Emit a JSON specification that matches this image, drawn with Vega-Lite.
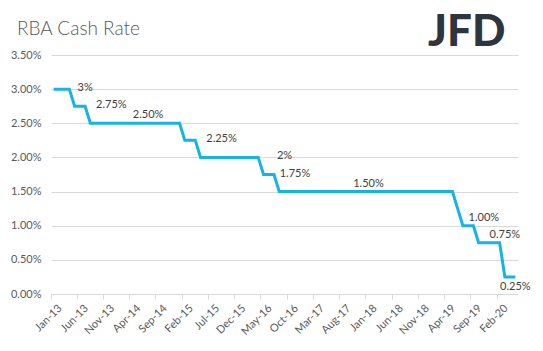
{
  "$schema": "https://vega.github.io/schema/vega-lite/v6.json",
  "width": 467,
  "height": 239,
  "autosize": {"type": "none"},
  "padding": {"left": 51, "top": 55, "right": 25, "bottom": 57},
  "background": "white",
  "config": {"view": {"stroke": null}, "font": "Lato"},
  "title": {"text": "RBA Cash Rate", "anchor": "start", "frame": "group", "dx": -34, "dy": 44, "offset": 0, "baseline": "alphabetic", "fontSize": 19, "fontWeight": 300, "color": "#595959"},
  "datasets": {
    "rates": [
      {"date": "2013-01-15", "rate": 0.03}, {"date": "2013-02-15", "rate": 0.03}, {"date": "2013-03-15", "rate": 0.03}, {"date": "2013-04-15", "rate": 0.03},
      {"date": "2013-05-15", "rate": 0.0275}, {"date": "2013-06-15", "rate": 0.0275}, {"date": "2013-07-15", "rate": 0.0275},
      {"date": "2013-08-15", "rate": 0.025}, {"date": "2013-09-15", "rate": 0.025}, {"date": "2013-10-15", "rate": 0.025}, {"date": "2013-11-15", "rate": 0.025}, {"date": "2013-12-15", "rate": 0.025},
      {"date": "2014-01-15", "rate": 0.025}, {"date": "2014-02-15", "rate": 0.025}, {"date": "2014-03-15", "rate": 0.025}, {"date": "2014-04-15", "rate": 0.025}, {"date": "2014-05-15", "rate": 0.025}, {"date": "2014-06-15", "rate": 0.025},
      {"date": "2014-07-15", "rate": 0.025}, {"date": "2014-08-15", "rate": 0.025}, {"date": "2014-09-15", "rate": 0.025}, {"date": "2014-10-15", "rate": 0.025}, {"date": "2014-11-15", "rate": 0.025}, {"date": "2014-12-15", "rate": 0.025},
      {"date": "2015-01-15", "rate": 0.025}, {"date": "2015-02-15", "rate": 0.0225}, {"date": "2015-03-15", "rate": 0.0225}, {"date": "2015-04-15", "rate": 0.0225},
      {"date": "2015-05-15", "rate": 0.02}, {"date": "2015-06-15", "rate": 0.02}, {"date": "2015-07-15", "rate": 0.02}, {"date": "2015-08-15", "rate": 0.02}, {"date": "2015-09-15", "rate": 0.02}, {"date": "2015-10-15", "rate": 0.02}, {"date": "2015-11-15", "rate": 0.02}, {"date": "2015-12-15", "rate": 0.02},
      {"date": "2016-01-15", "rate": 0.02}, {"date": "2016-02-15", "rate": 0.02}, {"date": "2016-03-15", "rate": 0.02}, {"date": "2016-04-15", "rate": 0.02},
      {"date": "2016-05-15", "rate": 0.0175}, {"date": "2016-06-15", "rate": 0.0175}, {"date": "2016-07-15", "rate": 0.0175},
      {"date": "2016-08-15", "rate": 0.015}, {"date": "2016-09-15", "rate": 0.015}, {"date": "2016-10-15", "rate": 0.015}, {"date": "2016-11-15", "rate": 0.015}, {"date": "2016-12-15", "rate": 0.015},
      {"date": "2017-01-15", "rate": 0.015}, {"date": "2017-02-15", "rate": 0.015}, {"date": "2017-03-15", "rate": 0.015}, {"date": "2017-04-15", "rate": 0.015}, {"date": "2017-05-15", "rate": 0.015}, {"date": "2017-06-15", "rate": 0.015},
      {"date": "2017-07-15", "rate": 0.015}, {"date": "2017-08-15", "rate": 0.015}, {"date": "2017-09-15", "rate": 0.015}, {"date": "2017-10-15", "rate": 0.015}, {"date": "2017-11-15", "rate": 0.015}, {"date": "2017-12-15", "rate": 0.015},
      {"date": "2018-01-15", "rate": 0.015}, {"date": "2018-02-15", "rate": 0.015}, {"date": "2018-03-15", "rate": 0.015}, {"date": "2018-04-15", "rate": 0.015}, {"date": "2018-05-15", "rate": 0.015}, {"date": "2018-06-15", "rate": 0.015},
      {"date": "2018-07-15", "rate": 0.015}, {"date": "2018-08-15", "rate": 0.015}, {"date": "2018-09-15", "rate": 0.015}, {"date": "2018-10-15", "rate": 0.015}, {"date": "2018-11-15", "rate": 0.015}, {"date": "2018-12-15", "rate": 0.015},
      {"date": "2019-01-15", "rate": 0.015}, {"date": "2019-02-15", "rate": 0.015}, {"date": "2019-03-15", "rate": 0.015}, {"date": "2019-04-15", "rate": 0.015}, {"date": "2019-05-15", "rate": 0.015},
      {"date": "2019-06-15", "rate": 0.0125}, {"date": "2019-07-15", "rate": 0.01}, {"date": "2019-08-15", "rate": 0.01}, {"date": "2019-09-15", "rate": 0.01},
      {"date": "2019-10-15", "rate": 0.0075}, {"date": "2019-11-15", "rate": 0.0075}, {"date": "2019-12-15", "rate": 0.0075}, {"date": "2020-01-15", "rate": 0.0075}, {"date": "2020-02-15", "rate": 0.0075},
      {"date": "2020-03-15", "rate": 0.0025}, {"date": "2020-04-15", "rate": 0.0025}, {"date": "2020-05-15", "rate": 0.0025}
    ],
    "labels": [
      {"date": "2013-07-15", "rate": 0.03, "label": "3%"},
      {"date": "2013-12-15", "rate": 0.0275, "label": "2.75%"},
      {"date": "2014-07-15", "rate": 0.025, "label": "2.50%"},
      {"date": "2015-09-15", "rate": 0.0225, "label": "2.25%"},
      {"date": "2016-09-15", "rate": 0.02, "label": "2%"},
      {"date": "2016-11-15", "rate": 0.0175, "label": "1.75%"},
      {"date": "2018-01-15", "rate": 0.015, "label": "1.50%"},
      {"date": "2019-11-15", "rate": 0.01, "label": "1.00%"},
      {"date": "2020-03-15", "rate": 0.0075, "label": "0.75%"},
      {"date": "2020-05-15", "rate": 0.0025, "label": "0.25%"}
    ]
  },
  "layer": [
    {
      "data": {"name": "rates"},
      "mark": {"type": "line", "color": "#16b4e2", "strokeWidth": 3},
      "encoding": {
        "x": {
          "field": "date", "timeUnit": "yearmonth", "type": "ordinal",
          "scale": {"type": "band", "paddingInner": 0, "paddingOuter": 0},
          "axis": {
            "values": [
              {"year": 2013, "month": 1, "date": 1}, {"year": 2013, "month": 6, "date": 1}, {"year": 2013, "month": 11, "date": 1},
              {"year": 2014, "month": 4, "date": 1}, {"year": 2014, "month": 9, "date": 1}, {"year": 2015, "month": 2, "date": 1},
              {"year": 2015, "month": 7, "date": 1}, {"year": 2015, "month": 12, "date": 1}, {"year": 2016, "month": 5, "date": 1},
              {"year": 2016, "month": 10, "date": 1}, {"year": 2017, "month": 3, "date": 1}, {"year": 2017, "month": 8, "date": 1},
              {"year": 2018, "month": 1, "date": 1}, {"year": 2018, "month": 6, "date": 1}, {"year": 2018, "month": 11, "date": 1},
              {"year": 2019, "month": 4, "date": 1}, {"year": 2019, "month": 9, "date": 1}, {"year": 2020, "month": 2, "date": 1}
            ],
            "format": "%b-%y", "formatType": "time",
            "title": null, "grid": false, "labelOverlap": false,
            "bandPosition": 0, "labelOffset": 2.6,
            "labelAngle": -45, "labelFontSize": 11, "labelColor": "#595959", "labelPadding": 3,
            "tickSize": 5, "tickColor": "#d9d9d9", "domainColor": "#d9d9d9"
          }
        },
        "y": {
          "field": "rate", "type": "quantitative",
          "scale": {"domain": [0, 0.035], "nice": false, "zero": true},
          "axis": {
            "values": [0, 0.005, 0.01, 0.015, 0.02, 0.025, 0.03, 0.035],
            "format": ".2%", "title": null, "grid": true, "gridColor": "#d9d9d9", "labelOverlap": false,
            "domain": false, "ticks": false, "labelPadding": 10, "labelFontSize": 11, "labelColor": "#595959"
          }
        }
      }
    },
    {
      "data": {"name": "labels"},
      "transform": [{"filter": {"field": "label", "oneOf": ["3%", "2.75%", "2.25%", "2%", "1.75%"]}}],
      "mark": {"type": "text", "fontSize": 11, "color": "#404040", "align": "center", "baseline": "middle", "dy": -1},
      "encoding": {
        "x": {"field": "date", "timeUnit": "yearmonth", "type": "ordinal", "axis": null},
        "y": {"field": "rate", "type": "quantitative", "axis": null},
        "text": {"field": "label"}
      }
    },
    {
      "data": {"name": "labels"},
      "transform": [{"filter": {"field": "label", "oneOf": ["2.50%", "1.50%", "1.00%", "0.75%"]}}],
      "mark": {"type": "text", "fontSize": 11, "color": "#404040", "align": "center", "baseline": "middle", "dy": -8},
      "encoding": {
        "x": {
          "field": "date", "timeUnit": "yearmonth", "type": "ordinal",
          "axis": {
            "orient": "top", "labels": false, "ticks": false, "domain": false, "grid": false,
            "title": "JFD", "titleFontSize": 44, "titleFontWeight": 900, "titleColor": "#2e353c",
            "titleAnchor": "end", "titleAlign": "right", "titleBaseline": "alphabetic", "titleX": 454, "titleY": -10
          }
        },
        "y": {"field": "rate", "type": "quantitative", "axis": null},
        "text": {"field": "label"}
      }
    },
    {
      "data": {"name": "labels"},
      "transform": [{"filter": {"field": "label", "oneOf": ["0.25%"]}}],
      "mark": {"type": "text", "fontSize": 11, "color": "#404040", "align": "center", "baseline": "middle", "dy": 10},
      "encoding": {
        "x": {"field": "date", "timeUnit": "yearmonth", "type": "ordinal", "axis": null},
        "y": {"field": "rate", "type": "quantitative", "axis": null},
        "text": {"field": "label"}
      }
    }
  ],
  "resolve": {"axis": {"x": "independent", "y": "independent"}}
}
